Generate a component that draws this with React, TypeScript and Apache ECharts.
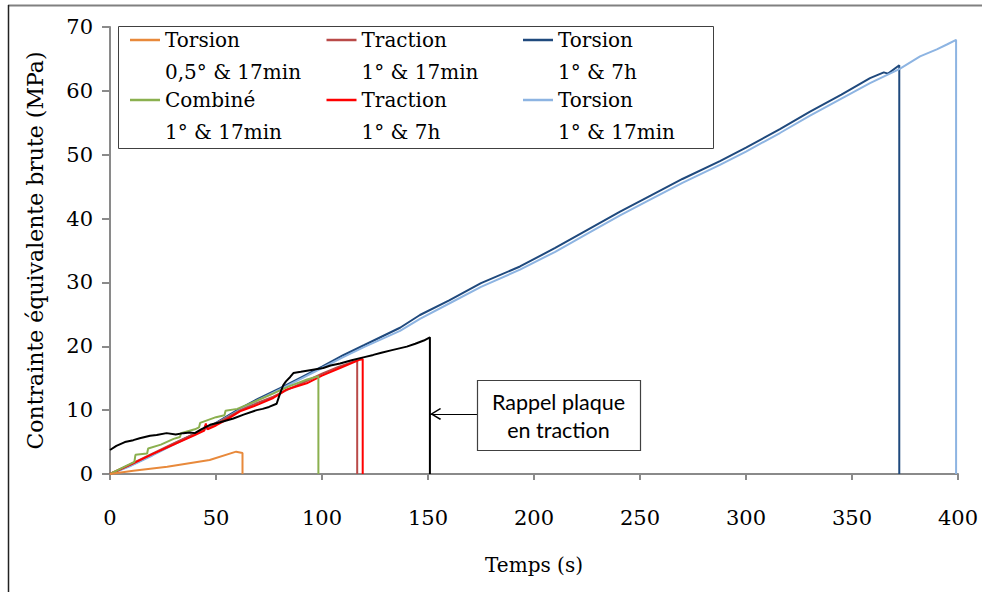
import React, { useEffect, useRef } from "react";
import * as echarts from "echarts";

// ---- Data (time in s, stress in MPa) ----
const seriesNames = [
  "Torsion 0,5° & 17min",
  "Traction 1° & 17min",
  "Torsion 1° & 7h",
  "Combiné 1° & 17min",
  "Traction 1° & 7h",
  "Torsion 1° & 17min",
];
const rappelName = "Rappel plaque en traction";

const orangeT = [0, 11, 27, 47, 59.5, 62.5, 62.5];
const orangeV = [0, 0.5, 1.15, 2.2, 3.5, 3.3, 0];

const darkRedT = [0, 10, 20, 30, 40, 44, 45, 46, 50, 61, 70, 77, 85, 93, 100, 108, 116.6, 116.6];
const darkRedV = [0, 1.6, 3.2, 4.8, 6.3, 6.9, 7.6, 7.1, 7.9, 9.9, 11.2, 12.1, 13.4, 14.6, 15.7, 16.8, 17.8, 0];

const darkBlueT = [0, 10, 20, 30, 40, 50, 61, 70, 80, 90, 100, 110, 120, 136.8, 146.2, 160, 175, 193.4, 210, 225, 240.6, 255, 270, 287.7, 300, 316, 330, 345, 358.5, 365, 367, 372.3, 372.3];
const darkBlueV = [0, 1.4, 3.0, 4.7, 6.3, 8.0, 10.2, 11.8, 13.4, 15.1, 16.8, 18.6, 20.2, 22.9, 24.9, 27.2, 29.9, 32.5, 35.4, 38.2, 41.1, 43.6, 46.2, 49.0, 51.1, 54.0, 56.7, 59.4, 62.0, 62.9, 62.7, 64.0, 0];

const greenT = [0, 6, 11.5, 12, 17.5, 18, 24, 30, 33, 33.5, 40, 42, 42.5, 50, 54, 54.5, 60, 68, 75, 85, 93, 98.3, 98.3];
const greenV = [0, 1.0, 1.9, 3.0, 3.2, 4.0, 4.6, 5.5, 5.8, 6.4, 7.0, 7.3, 8.0, 8.9, 9.2, 9.9, 10.2, 11.3, 12.3, 13.8, 14.8, 15.3, 0];

const redT = [0, 10, 20, 30, 40, 44.5, 45.2, 46, 50, 55, 61.3, 70, 77, 80, 83, 92.8, 100, 108.5, 117.9, 119.2, 119.2];
const redV = [0, 1.5, 3.1, 4.6, 6.1, 6.8, 7.9, 7.0, 7.6, 8.5, 9.8, 10.9, 11.9, 12.5, 13.2, 14.2, 15.4, 16.6, 17.9, 18.0, 0];

const lightBlueT = [0, 10, 20, 30, 40, 50, 61, 70, 80, 90, 100, 110, 120, 136.8, 146.2, 160, 175, 193.4, 210, 225, 240.6, 255, 270, 287.7, 300, 316, 330, 345, 358.5, 372.3, 382.1, 390, 395, 399.1, 399.1];
const lightBlueV = [0, 1.3, 2.9, 4.6, 6.2, 7.9, 10.0, 11.6, 13.2, 14.9, 16.6, 18.3, 19.9, 22.4, 24.3, 26.7, 29.3, 32.0, 34.8, 37.6, 40.5, 43.0, 45.6, 48.4, 50.5, 53.4, 56.1, 58.8, 61.2, 63.4, 65.4, 66.5, 67.3, 68.0, 0];

const blackT = [0, 3, 7, 11, 14, 18.9, 22, 26.7, 31, 34.6, 37.7, 40, 43, 47.2, 52, 58.2, 63, 69.2, 72, 75, 78.6, 80, 81.7, 83, 85, 86.5, 90, 95, 100.6, 104, 108.5, 114, 120, 124.2, 128, 133, 140, 144, 148, 150.9, 150.9];
const blackV = [3.76, 4.4, 5.0, 5.3, 5.6, 6.0, 6.1, 6.4, 6.2, 6.4, 6.5, 6.4, 7.0, 7.7, 8.1, 8.7, 9.3, 10.0, 10.2, 10.5, 11.0, 12.4, 13.9, 14.5, 15.2, 15.8, 16.0, 16.3, 16.6, 17.0, 17.3, 17.8, 18.3, 18.65, 19.0, 19.4, 19.95, 20.4, 20.9, 21.4, 0];

// annotation arrow (data coordinates)
const arrowV = 9.41;
const arrowStartT = 173.1;
const arrowEndT = 151;
const arrowHeadT = 153.6;

const xMin = 0, xMax = 400, xStep = 50;
const yMin = 0, yMax = 70, yStep = 10;

const colors = ["#E8893B", "#B94A48", "#1F497D", "#8BB04F", "#FF0000", "#8DB4E2"];

const zip = (t: number[], v: number[]) => t.map((x, i) => [x, v[i]]);

const SERIF = "DejaVu Serif";
const AXIS_COLOR = "#8a8a8a";

export default function App() {
  const ref = useRef<HTMLDivElement>(null);
  useEffect(() => {
    if (!ref.current) return;
    const chart = echarts.init(ref.current, undefined, { renderer: "svg" });

    const mk = (name: string, t: number[], v: number[], color: string, extra: any = {}) => ({
      name,
      type: "line",
      data: zip(t, v),
      symbol: "none",
      showSymbol: false,
      lineStyle: { color, width: 2 },
      itemStyle: { color },
      ...extra,
    });

    const chevron = "path://M5,0 L10,9 L9,10 L5,2.5 L1,10 L0,9 Z";

    const series: any[] = [
      mk(seriesNames[2], darkBlueT, darkBlueV, colors[2]),
      mk(seriesNames[5], lightBlueT, lightBlueV, colors[5]),
      mk(seriesNames[1], darkRedT, darkRedV, colors[1]),
      mk(seriesNames[4], redT, redV, colors[4]),
      mk(seriesNames[3], greenT, greenV, colors[3]),
      mk(seriesNames[0], orangeT, orangeV, colors[0]),
      mk(rappelName, blackT, blackV, "#000000", {
        markLine: {
          silent: true,
          animation: false,
          symbol: ["none", "none"],
          label: { show: false },
          lineStyle: { color: "#000", width: 1, type: "solid" },
          itemStyle: { color: "#000" },
          emphasis: { disabled: true },
          data: [
            [{ coord: [arrowStartT, arrowV] }, { coord: [arrowEndT, arrowV] }],
            [
              { coord: [arrowHeadT + 2.5, arrowV], symbol: "none" },
              { coord: [arrowHeadT, arrowV], symbol: chevron, symbolSize: [12, 11] },
            ],
          ],
        },
      }),
    ];

    const option: any = {
      animation: false,
      backgroundColor: "#ffffff",
      textStyle: { fontFamily: SERIF },
      grid: { left: 110, right: 24, top: 27, bottom: 118 },
      legend: {
        data: [seriesNames[0], seriesNames[1], seriesNames[2], "", seriesNames[3], seriesNames[4], seriesNames[5]],
        left: 130,
        top: -8,
        width: 820,
        padding: 0,
        itemGap: -36,
        itemWidth: 30,
        itemHeight: 2.5,
        icon: "rect",
        selectedMode: false,
        formatter: (name: string) => {
          const i = name.indexOf(" ");
          return `{sp|\u00A0}\n{a|${name.slice(0, i)}}\n{a|${name.slice(i + 1)}}`;
        },
        textStyle: {
          fontFamily: SERIF,
          fontSize: 20,
          color: "#000",
          rich: {
            a: { fontFamily: SERIF, fontSize: 20, lineHeight: 32, height: 32, width: 197.5, color: "#000" },
            sp: { fontFamily: SERIF, fontSize: 20, lineHeight: 32, height: 32, width: 197.5, color: "#000" },
          },
        },
      },
      xAxis: {
        type: "value",
        min: xMin,
        max: xMax,
        interval: xStep,
        name: "Temps (s)",
        nameLocation: "middle",
        nameGap: 81,
        nameTextStyle: { fontFamily: SERIF, fontSize: 20, color: "#000" },
        axisLine: { show: true, lineStyle: { color: AXIS_COLOR, width: 2 } },
        axisTick: { show: true, length: 6, lineStyle: { color: AXIS_COLOR, width: 2 } },
        splitLine: { show: false },
        axisLabel: { margin: 33, fontFamily: SERIF, fontSize: 21, color: "#000" },
      },
      yAxis: {
        type: "value",
        min: yMin,
        max: yMax,
        interval: yStep,
        name: "Contrainte équivalente brute (MPa)",
        nameLocation: "middle",
        nameGap: 64,
        nameRotate: 90,
        nameTextStyle: { fontFamily: SERIF, fontSize: 22, color: "#000" },
        axisLine: { show: true, lineStyle: { color: AXIS_COLOR, width: 2 } },
        axisTick: { show: true, length: 8, lineStyle: { color: AXIS_COLOR, width: 2 } },
        splitLine: { show: false },
        axisLabel: { margin: 17, fontFamily: SERIF, fontSize: 21, color: "#000" },
      },
      graphic: [
        { type: "line", z: 1, shape: { x1: 8, y1: 5.5, x2: 982, y2: 5.5 }, style: { stroke: "#808080", lineWidth: 2 } },
        { type: "line", z: 1, shape: { x1: 8.5, y1: 5, x2: 8.5, y2: 592 }, style: { stroke: "#222", lineWidth: 1.5 } },
        {
          type: "rect",
          z: 1,
          shape: { x: 118.5, y: 26.5, width: 595, height: 122 },
          style: { fill: "#ffffff", stroke: "#404040", lineWidth: 1 },
        },
        {
          type: "rect",
          z: 10,
          shape: { x: 477.5, y: 380.5, width: 163, height: 70 },
          style: { fill: "#ffffff", stroke: "#404040", lineWidth: 1.2 },
        },
        {
          type: "text",
          z: 11,
          x: 558.5,
          y: 415.5,
          style: {
            text: "Rappel plaque\nen traction",
            fontFamily: "Lato",
            fontSize: 21.5,
            lineHeight: 28,
            fill: "#000",
            align: "center",
            verticalAlign: "middle",
            textAlign: "center",
            textVerticalAlign: "middle",
          },
        },
      ],
      series,
    };
    chart.setOption(option);
    return () => chart.dispose();
  }, []);
  return <div ref={ref} style={{ position: "fixed", left: 0, top: 0, width: 982, height: 592 }} />;
}
